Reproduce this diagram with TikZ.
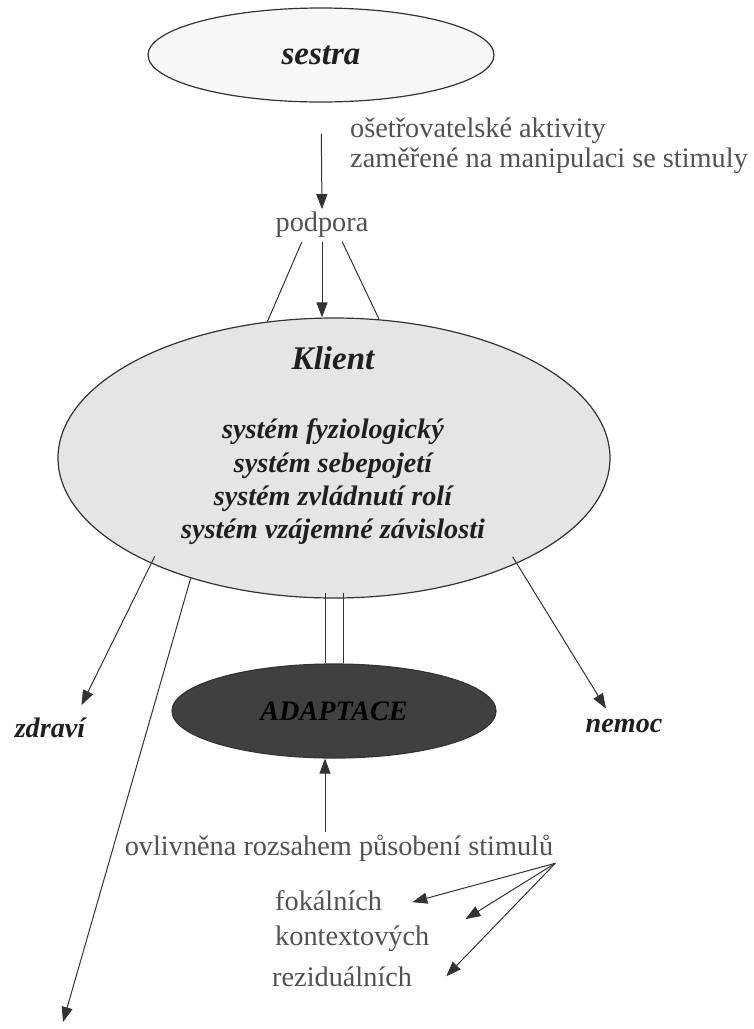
\documentclass[tikz,border=0pt]{standalone}
\usepackage{fontspec}
\setmainfont{Liberation Serif}
\usetikzlibrary{arrows.meta,shapes.geometric}

\definecolor{inkgray}{gray}{0.32}
\definecolor{inkdark}{gray}{0.12}
\definecolor{wire}{gray}{0.2}
\definecolor{paleshade}{gray}{0.97}
\definecolor{clientshade}{gray}{0.9}
\definecolor{adaptshade}{gray}{0.25}

\tikzset{
  bubble/.style={ellipse, draw=wire, line width=1.2pt, inner sep=0pt},
  word/.style={text=inkgray, inner sep=2pt, font=\fontsize{28.3}{30}\selectfont},
  accent/.style={text=inkdark, inner sep=2pt, font=\fontsize{33}{36}\selectfont\bfseries\itshape},
  system/.style={text=inkdark, inner sep=2pt, font=\fontsize{28.2}{33}\selectfont\bfseries\itshape},
  wireline/.style={draw=wire, line width=1pt},
  arr/.style={wireline, -{Triangle[length=15pt,width=11pt]}}
}

\begin{document}
\begin{tikzpicture}[x=1pt,y=-1pt]
\useasboundingbox (0,0) rectangle (753,1029);

\node [bubble, fill=paleshade, minimum width=346, minimum height=94, accent] (sestra) at (321,55) {sestra};
\node [word, anchor=base west] (aktivity) at (348,137) {ošetřovatelské aktivity};
\node [word, anchor=base west] (manipulace) at (348,167) {zaměřené na manipulaci se stimuly};
\node [word, anchor=base] (podpora) at (322,231) {podpora};

\node [bubble, fill=clientshade, minimum width=552, minimum height=280] (klient) at (334,458) {};
\node [accent, anchor=base] (klienttitle) at (333,369) {Klient};
\node [system, anchor=base] (fyz) at (333,438) {systém fyziologický};
\node [system, anchor=base] (sebe) at (333,472) {systém sebepojetí};
\node [system, anchor=base] (role) at (333,505) {systém zvládnutí rolí};
\node [system, anchor=base] (zavis) at (333,538) {systém vzájemné závislosti};

\node [bubble, fill=adaptshade, minimum width=324, minimum height=94, system, text=black] (adaptace) at (334,711) {ADAPTACE};
\node [system, anchor=base] (zdravi) at (50,737) {zdraví};
\node [system, anchor=base] (nemoc) at (624,732) {nemoc};

\node [word, anchor=base] (ovliv) at (339,855) {ovlivněna rozsahem působení stimulů};
\node [word, anchor=base west] (fokal) at (273,910) {fokálních};
\node [word, anchor=base west] (kontext) at (273,945) {kontextových};
\node [word, anchor=base west] (rezid) at (270,986) {reziduálních};

\coordinate (sink) at (63,1022);
\coordinate (up) at ([xshift=-9pt]adaptace.south);

% sestra -> klient
\draw [arr, shorten <=31pt] (sestra.south) -- (podpora.north);
\draw [wireline, shorten <=3pt] ([xshift=-19pt]podpora.south) -- (klient.116);
\draw [arr, shorten <=3pt] (podpora.south) -- (podpora.south |- klient.north);
\draw [wireline, shorten <=3pt] ([xshift=19pt]podpora.south) -- (klient.72);

% klient -> vystupy
\draw [arr, shorten <=-8pt] (klient.210) -- ([shift={(-6,-10)}]zdravi.north east);
\draw [arr, shorten <=-8pt] (klient.330) -- ([shift={(-18,-8)}]nemoc.north);
\draw [arr] (klient.220) -- (sink);
\draw [wireline, shorten <=-6pt] ([xshift=-9pt]klient.south) -- ([xshift=-9pt]adaptace.north);
\draw [wireline, shorten <=-6pt] ([xshift=9pt]klient.south) -- ([xshift=9pt]adaptace.north);

% stimuly
\draw [arr] (up |- ovliv.north) -- (up);
\draw [arr] (ovliv.south east) -- ([shift={(28,2)}]fokal.east);
\draw [arr] (ovliv.south east) -- ([shift={(34,-4)}]kontext.north east);
\draw [arr] (ovliv.south east) -- ([xshift=32pt]rezid.east);
\end{tikzpicture}
\end{document}
